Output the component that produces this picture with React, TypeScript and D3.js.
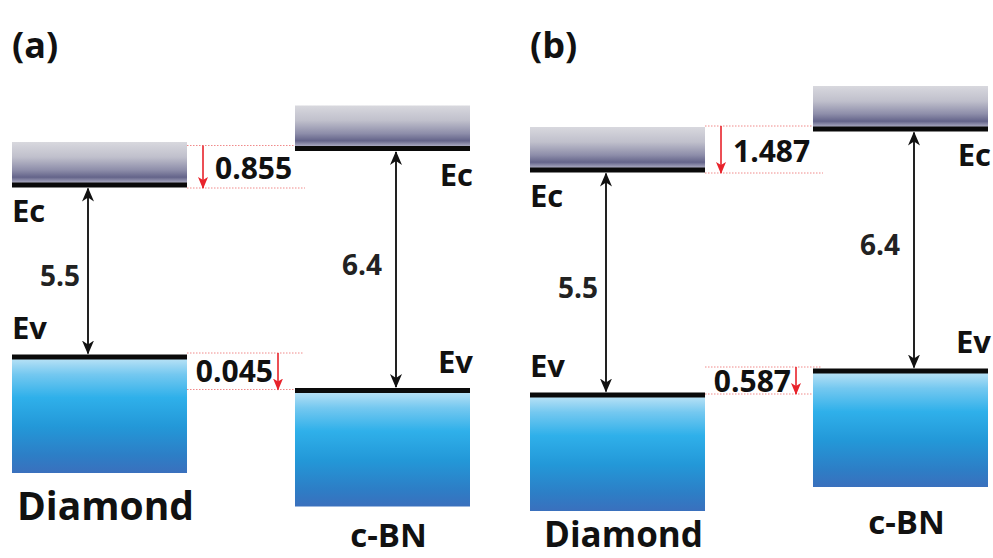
import React from "react";
import * as d3 from "d3";

// ---- data ----
const panelLabels = ["(a)", "(b)"];
const materials = ["Diamond", "c-BN"];
const bandGaps = [5.5, 6.4]; // Diamond, c-BN (eV)
const cbOffsets = [0.855, 1.487]; // conduction band offset per panel
const vbOffsets = [0.045, 0.587]; // valence band offset per panel
// schematic band-edge levels (arb. energy units), per panel: [Diamond, c-BN]
const ecLevels = [
  [37.3, 40.95],
  [38.8, 42.9],
];
const evLevels = [
  [20.1, 16.75],
  [16.3, 18.7],
];

const W = 993;
const H = 558;
const FONT = "'Open Sans', 'DejaVu Sans', sans-serif";

const y = d3.scaleLinear().domain([0, 55.8]).range([H, 0]);
const panelX = d3.scaleBand<string>().domain(panelLabels).range([12, 988 + 60]).paddingInner(0).paddingOuter(0);
const LINE_W = 5;
const CB_H = 43;
const VB_H = 116;

export default function App() {
  const panelOrigin = (p: string) => panelX(p) as number; // 12 and 530
  return (
    <svg width={W} height={H} style={{ position: "absolute", left: 0, top: 0, background: "#fff" }} fontFamily={FONT}>
      <defs>
        <linearGradient id="cbGrad" x1="0" y1="0" x2="0" y2="1">
          <stop offset="0%" stopColor="#d8d8de" />
          <stop offset="35%" stopColor="#c0c0cc" />
          <stop offset="65%" stopColor="#8e8eaa" />
          <stop offset="82%" stopColor="#64648a" />
          <stop offset="92%" stopColor="#9c9cb6" />
          <stop offset="100%" stopColor="#d4d4e0" />
        </linearGradient>
        <linearGradient id="vbGrad" x1="0" y1="0" x2="0" y2="1">
          <stop offset="0%" stopColor="#bfe4f6" />
          <stop offset="15%" stopColor="#74c8f0" />
          <stop offset="35%" stopColor="#2fb0ea" />
          <stop offset="60%" stopColor="#2398d8" />
          <stop offset="85%" stopColor="#2d7ec6" />
          <stop offset="100%" stopColor="#3a70bd" />
        </linearGradient>
        <marker id="blackHead" viewBox="0 0 14 12" refX="13" refY="6" markerWidth="14" markerHeight="12" markerUnits="userSpaceOnUse" orient="auto-start-reverse">
          <path d="M0,0 L14,6 L0,12 L4,6 Z" fill="#111" />
        </marker>
        <marker id="redHead" viewBox="0 0 12 10" refX="11" refY="5" markerWidth="12" markerHeight="11" markerUnits="userSpaceOnUse" orient="auto">
          <path d="M0,0 L12,5 L0,10 L3,5 Z" fill="#e8232b" />
        </marker>
      </defs>

      {panelLabels.map((pl, pi) => {
        const ox = panelOrigin(pl);
        const xb = d3.scaleBand<string>().domain(materials).range([ox, ox + 458]).paddingInner(0.3816).paddingOuter(0);
        const bw = xb.bandwidth();
        const ec = ecLevels[pi].map((v) => y(v));
        const ev = evLevels[pi].map((v) => y(v));
        const diaRight = (xb("Diamond") as number) + bw;
        const cbnLeft = xb("c-BN") as number;
        const cbTop = Math.min(ec[0], ec[1]) - 3;
        const cbBot = Math.max(ec[0], ec[1]) + 3;
        const vbTop = Math.min(ev[0], ev[1]) - 4;
        const vbBot = Math.max(ev[0], ev[1]) - 1;
        const cbArrowX = diaRight + 16;
        const vbArrowX = diaRight + 91;
        return (
          <g key={pl}>
            <text x={ox} y={58} fontSize={36} fontWeight={700} fill="#111">{pl}</text>

            {/* offset guide lines */}
            {[cbTop, cbBot].map((yy, k) => (
              <line key={"c" + k} x1={diaRight} x2={cbnLeft + 10} y1={yy} y2={yy} stroke="#f08a8a" strokeWidth={1} strokeDasharray="1.5 1.5" />
            ))}
            {[vbTop, vbBot].map((yy, k) => (
              <line key={"v" + k} x1={diaRight} x2={cbnLeft + 8} y1={yy} y2={yy} stroke="#f08a8a" strokeWidth={1} strokeDasharray="1.5 1.5" />
            ))}

            {materials.map((m, mi) => {
              const x0 = xb(m) as number;
              const arrowX = x0 + (mi === 0 ? 76 : 101);
              const mid = (ec[mi] + ev[mi]) / 2;
              const nameY = Math.min(ev[mi] + VB_H + 47, H - 11);
              return (
                <g key={m}>
                  <rect x={x0} y={ec[mi] - CB_H} width={bw} height={CB_H} fill="url(#cbGrad)" />
                  <rect x={x0} y={ev[mi]} width={bw} height={VB_H} fill="url(#vbGrad)" />
                  <rect x={x0} y={ec[mi] - LINE_W / 2} width={bw} height={LINE_W} fill="#0a0a0a" />
                  <rect x={x0} y={ev[mi] - LINE_W / 2} width={bw} height={LINE_W} fill="#0a0a0a" />
                  <line x1={arrowX} x2={arrowX} y1={ec[mi] + LINE_W / 2 + 1} y2={ev[mi] - LINE_W / 2 - 1} stroke="#222" strokeWidth={2} markerStart="url(#blackHead)" markerEnd="url(#blackHead)" />
                  <text x={arrowX - (mi === 0 ? 8 : 14)} y={mid + (mi === 0 ? 15 : 5)} textAnchor="end" fontSize={28} fontWeight={700} fill="#222">{bandGaps[mi]}</text>
                  <text x={mi === 0 ? x0 : x0 + bw + 3} y={ec[mi] + 37} textAnchor={mi === 0 ? "start" : "end"} fontSize={31} fontWeight={700} fill="#111">Ec</text>
                  <text x={mi === 0 ? x0 : x0 + bw + 3} y={ev[mi] - 18} textAnchor={mi === 0 ? "start" : "end"} fontSize={31} fontWeight={700} fill="#111">Ev</text>
                  <text x={x0 + bw / 2 + 6} y={nameY} textAnchor="middle" fontSize={mi === 0 ? (pi === 0 ? 39 : 35) : 33} fontWeight={700} fill="#111">{m}</text>
                </g>
              );
            })}

            {/* red offset arrows */}
            <line x1={cbArrowX} x2={cbArrowX} y1={cbTop} y2={cbBot} stroke="#e8232b" strokeWidth={1.6} markerEnd="url(#redHead)" />
            <text x={cbArrowX + 12} y={(cbTop + cbBot) / 2 + 12} fontSize={30} fontWeight={700} fill="#111">{cbOffsets[pi].toFixed(3)}</text>
            <line x1={vbArrowX} x2={vbArrowX} y1={vbTop} y2={vbBot} stroke="#e8232b" strokeWidth={1.6} markerEnd="url(#redHead)" />
            <text x={vbArrowX - 5} y={(vbTop + vbBot) / 2 + 11} textAnchor="end" fontSize={30} fontWeight={700} fill="#111">{vbOffsets[pi].toFixed(3)}</text>
          </g>
        );
      })}
    </svg>
  );
}
